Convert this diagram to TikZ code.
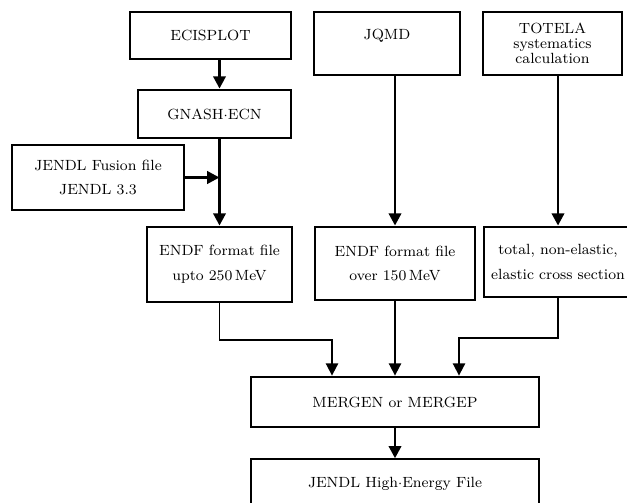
\documentclass[tikz,border=0pt]{standalone}
\usepackage{tikz}
\usetikzlibrary{positioning,arrows.meta,calc}

\begin{document}
\begin{tikzpicture}[
    every node/.style={font=\fontsize{8.4pt}{10pt}\selectfont, align=center},
    codeBox/.style={rectangle, draw=black, line width=1.6pt, fill=white},
    fileBox/.style={rectangle, draw=black, line width=0.8pt, fill=white},
    flowArrow/.style={draw=black, line width=1.6pt, -{Triangle[width=7pt,length=7pt]}},
    mergeLine/.style={draw=black, line width=1pt, -{Triangle[width=7pt,length=7pt]}}
]
    \useasboundingbox (0,0) rectangle (12.54,10.04);

    \node [codeBox, minimum width=3.22cm, minimum height=0.94cm] (ecis) at (4.21, 9.33) {ECISPLOT};
    \node [codeBox, minimum width=3.06cm, minimum height=0.96cm] (gnash) at (4.29, 7.76) {GNASH$\cdot$ECN};
    \node [fileBox, minimum width=3.44cm, minimum height=1.30cm] (fusion) at (1.96, 6.49) {JENDL Fusion file\\[4pt]JENDL 3.3};

    \node [codeBox, minimum width=2.92cm, minimum height=1.26cm, text depth=0.38cm] (jqmd) at (7.74, 9.17) {JQMD};
    \node [codeBox, minimum width=2.78cm, minimum height=1.26cm, font=\fontsize{8.4pt}{8.6pt}\selectfont] (totela) at (11.05, 9.17) {TOTELA\\systematics\\calculation};

    \node [codeBox, minimum width=2.90cm, minimum height=1.50cm] (endfA) at (4.39, 4.75) {ENDF format file\\[4pt]upto 250\,MeV};
    \node [codeBox, minimum width=3.20cm, minimum height=1.46cm] (endfB) at (7.90, 4.77) {ENDF format file\\[4pt]over 150\,MeV};
    \node [codeBox, minimum width=2.96cm, minimum height=1.40cm, inner xsep=1pt] (xsec) at (11.16, 4.80) {total, non-elastic,\\[4pt]elastic cross section};

    \node [codeBox, minimum width=5.76cm, minimum height=1.00cm] (merge) at (7.90, 2.00) {MERGEN or MERGEP};
    \node [fileBox, minimum width=5.76cm, minimum height=1.00cm] (jhe) at (7.90, 0.36) {JENDL High$\cdot$Energy File};

    % elbow corners above the merge step
    \coordinate (jointA) at (6.64, 3.24);
    \coordinate (jointC) at (9.18, 3.28);

    \path [flowArrow] (ecis.south -| endfA.north) -- (gnash.north -| endfA.north);
    \path [flowArrow] (gnash.south -| endfA.north) -- (endfA.north);
    \path [flowArrow] (fusion.east) -- (fusion.east -| endfA.north);
    \path [flowArrow] (jqmd.south -| endfB.north) -- (endfB.north);
    \path [flowArrow] (totela.south -| xsec.north) -- (xsec.north);

    \path [mergeLine] (endfA.south) |- (jointA) -- (jointA |- merge.north);
    \path [mergeLine] (endfB.south) -- (merge.north);
    \path [mergeLine] (xsec.south) |- (jointC) -- (jointC |- merge.north);

    \path [flowArrow] (merge.south) -- (jhe.north);
\end{tikzpicture}
\end{document}
